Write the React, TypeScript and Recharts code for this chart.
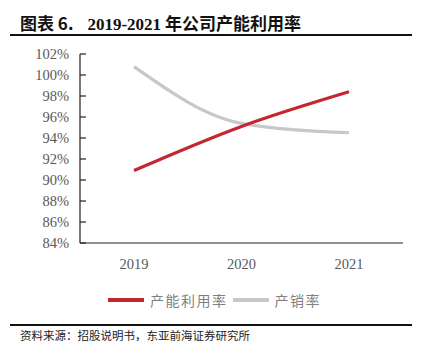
import React from "react";
import { LineChart, Line, XAxis, YAxis, Legend } from "recharts";

const years = ["2019", "2020", "2021"];
const capacityUtilization = [90.9, 95.1, 98.4];
const salesRate = [100.8, 95.4, 94.5];
const yTicks = [84, 86, 88, 90, 92, 94, 96, 98, 100, 102];
const seriesNames = ["产能利用率", "产销率"];
const source = "资料来源：招股说明书，东亚前海证券研究所";

const data = years.map((y, i) => ({
  year: y,
  cap: capacityUtilization[i],
  sales: salesRate[i],
}));

const RED = "#C3272F";
const GRAY = "#C8C8C8";
const SERIF = "'Liberation Serif', 'Times New Roman', serif";
const CJK = "'Noto Sans CJK SC', sans-serif";

const YTick = (props: any) => {
  const { x, y, payload } = props;
  return (
    <g>
      <line x1={x} x2={x + 6} y1={y} y2={y} stroke="#222" strokeWidth={1.2} />
      <text x={x - 11} y={y} dy={5} textAnchor="end" fill="#595959" fontSize={14.5} fontFamily={SERIF}>
        {payload.value}%
      </text>
    </g>
  );
};

const XTick = (props: any) => {
  const { x, y, payload } = props;
  return (
    <text x={x} y={y + 26} textAnchor="middle" fill="#595959" fontSize={14.5} fontFamily={SERIF}>
      {payload.value}
    </text>
  );
};

const LegendContent = () => (
  <div style={{ display: "flex", alignItems: "center", justifyContent: "center", fontFamily: CJK, fontSize: 14, color: "#7f7f7f", width: 421, paddingLeft: 8, boxSizing: "border-box" }}>
    <span style={{ display: "inline-block", width: 36, height: 4, background: RED, marginRight: 6 }} />
    <span style={{ marginRight: 5, letterSpacing: 1.5 }}>{seriesNames[0]}</span>
    <span style={{ display: "inline-block", width: 36, height: 4, background: GRAY, marginRight: 6 }} />
    <span style={{ letterSpacing: 1.5 }}>{seriesNames[1]}</span>
  </div>
);

export default function App() {
  return (
    <div style={{ position: "absolute", left: 0, top: 0, width: 421, height: 356, background: "#fff", overflow: "hidden" }}>
      <div style={{ position: "absolute", left: 20, top: 10, fontSize: 17, fontWeight: 700, color: "#111", whiteSpace: "nowrap" }}>
        <span style={{ fontFamily: CJK }}>图表 6.</span>
        <span style={{ fontFamily: SERIF, marginLeft: 14 }}>2019-2021</span>
        <span style={{ fontFamily: CJK, marginLeft: 4 }}>年公司产能利用率</span>
      </div>
      <div style={{ position: "absolute", left: 10, top: 34, width: 402, height: 2, background: "#111" }} />
      <div style={{ position: "absolute", left: 0, top: 0 }}>
        <LineChart width={421} height={356} data={data} margin={{ top: 54, right: 18, bottom: 63, left: 0 }}>
          <XAxis
            dataKey="year"
            axisLine={{ stroke: "#222", strokeWidth: 1.2 }}
            tickLine={false}
            tickSize={0}
            tickMargin={0}
            height={30}
            padding={{ left: 54, right: 54 }}
            tick={<XTick />}
          />
          <YAxis
            domain={[84, 102]}
            ticks={yTicks}
            width={80}
            axisLine={{ stroke: "#222", strokeWidth: 1.2 }}
            tickLine={false}
            tickSize={0}
            tickMargin={0}
            tick={<YTick />}
            interval={0}
          />
          <Legend
            layout="vertical"
            align="center"
            verticalAlign="bottom"
            wrapperStyle={{ position: "absolute", left: 0, top: 290, width: 421 }}
            content={<LegendContent />}
          />
          <Line type="monotone" dataKey="sales" name={seriesNames[1]} stroke={GRAY} strokeWidth={3.2} dot={false} isAnimationActive={false} />
          <Line type="monotone" dataKey="cap" name={seriesNames[0]} stroke={RED} strokeWidth={3.2} dot={false} isAnimationActive={false} />
        </LineChart>
      </div>
      <div style={{ position: "absolute", left: 10, top: 324, width: 402, height: 2, background: "#111" }} />
      <div style={{ position: "absolute", left: 20, top: 327, fontFamily: CJK, fontSize: 11.5, color: "#222", whiteSpace: "nowrap" }}>
        {source}
      </div>
    </div>
  );
}
